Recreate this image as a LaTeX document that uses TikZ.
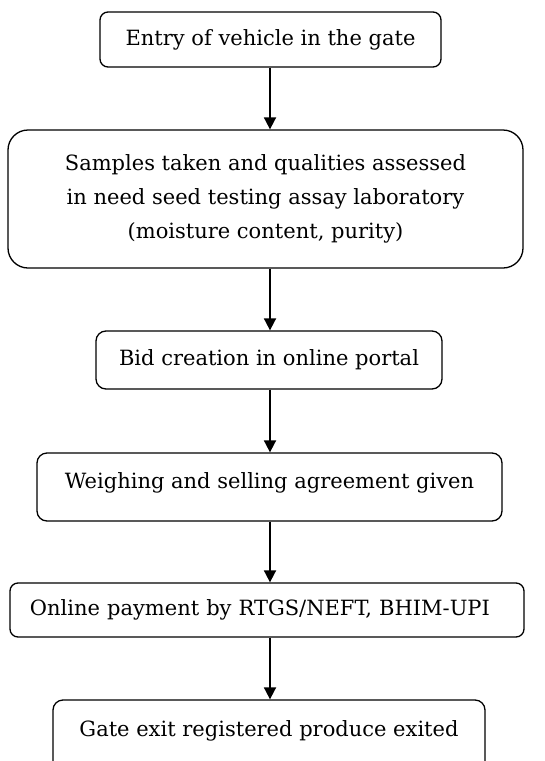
\documentclass[tikz,border=0pt]{standalone}
\usepackage{fontspec}
\setmainfont{DejaVu Serif}
\usetikzlibrary{arrows.meta,positioning}

\tikzset{
    stage/.style={draw,line width=1.3pt,inner sep=0pt,align=center,
        font=\fontsize{21}{34}\selectfont},
    flow/.style={line width=1.8pt,-{Triangle[length=12pt,width=12pt]}}
}

\begin{document}
\begin{tikzpicture}[x=1pt,y=-1pt]
        \useasboundingbox (0,0) rectangle (544,761);
        \clip (0,0) rectangle (544,761);

        \node[stage,rounded corners=8pt,minimum width=341pt,minimum height=55pt] (entry) at (270.5,39.5) {Entry of vehicle in the gate};
        \node[stage,rounded corners=20pt,minimum width=515pt,minimum height=138pt] (sample) at (265.5,199) {Samples taken and qualities assessed\\in need seed testing assay laboratory\\(moisture content, purity)};
        \node[stage,rounded corners=10pt,minimum width=346pt,minimum height=58pt] (bid) at (269,360) {Bid creation in online portal};
        \node[stage,rounded corners=10pt,minimum width=465pt,minimum height=68pt,text depth=12pt] (weigh) at (269.5,487) {Weighing and selling agreement given};
        \node[stage,rounded corners=8pt,inner xsep=20pt,text width=474pt,align=left,minimum height=54pt] (pay) at (267,610) {Online payment by RTGS/NEFT, BHIM-UPI};
        \node[stage,rounded corners=10pt,minimum width=432pt,minimum height=72pt,text depth=14pt] (exit) at (269,736) {Gate exit registered produce exited};

        \draw[flow] (entry.south -| 270,0) -- (sample.north -| 270,0);
        \draw[flow] (sample.south -| 270,0) -- (bid.north -| 270,0);
        \draw[flow] (bid.south -| 270,0) -- (weigh.north -| 270,0);
        \draw[flow] (weigh.south -| 270,0) -- (pay.north -| 270,0);
        \draw[flow] (pay.south -| 270,0) -- (exit.north -| 270,0);
    \end{tikzpicture}
\end{document}
